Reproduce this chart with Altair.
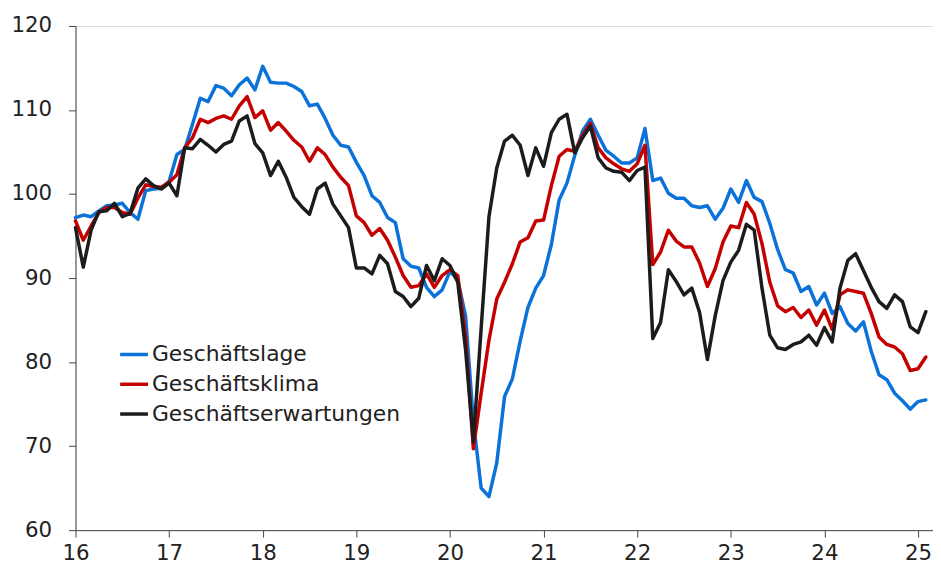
import altair as alt
import pandas as pd

# Monthly values Jan 2016 .. Feb 2025 (index 2015=100)
lage = [97.2, 97.5, 97.3, 98.0, 98.6, 98.7, 98.9, 97.8, 97.0, 100.4, 100.6, 100.7,
        101.5, 104.7, 105.3, 108.3, 111.4, 111.0, 112.9, 112.6, 111.7, 113.0, 113.8, 112.4,
        115.2, 113.3, 113.2, 113.2, 112.8, 112.2, 110.5, 110.7, 109.0, 107.0, 105.8, 105.6,
        103.8, 102.2, 99.8, 99.0, 97.2, 96.6, 92.3, 91.4, 91.2, 88.9, 87.8, 88.6,
        90.8, 89.8, 85.5, 73.0, 65.0, 64.0, 68.0, 75.9, 78.0, 82.5, 86.5, 88.8,
        90.3, 94.0, 99.3, 101.3, 104.6, 107.5, 108.9, 107.0, 105.2, 104.5, 103.7, 103.7,
        104.3, 107.8, 101.6, 101.9, 100.1, 99.5, 99.5, 98.6, 98.4, 98.6, 97.0, 98.3,
        100.6, 99.0, 101.6, 99.6, 99.1, 96.5, 93.4, 91.0, 90.6, 88.4, 89.0, 86.8,
        88.2, 85.8, 86.6, 84.6, 83.7, 84.8, 81.3, 78.5, 77.9, 76.3, 75.4, 74.4,
        75.3, 75.5]

klima = [96.8, 94.5, 96.2, 97.8, 98.4, 98.4, 97.8, 97.6, 99.5, 101.1, 100.9, 100.8,
         101.4, 102.3, 105.5, 106.7, 108.9, 108.5, 109.0, 109.3, 108.9, 110.5, 111.6, 109.1,
         109.9, 107.6, 108.5, 107.5, 106.4, 105.6, 103.9, 105.5, 104.7, 103.2, 102.0, 101.0,
         97.4, 96.6, 95.1, 95.9, 94.5, 92.5, 90.3, 88.9, 89.1, 90.5, 88.9, 90.3,
         91.0, 90.3, 83.0, 69.7, 76.3, 82.6, 87.5, 89.5, 91.7, 94.3, 94.8, 96.8,
         96.9, 101.0, 104.5, 105.3, 105.1, 107.0, 108.4, 105.5, 104.3, 103.6, 103.0, 102.7,
         103.6, 105.8, 91.6, 93.1, 95.7, 94.4, 93.7, 93.7, 91.8, 89.0, 91.1, 94.3,
         96.2, 96.0, 99.0, 97.6, 94.1, 89.5, 86.7, 86.0, 86.5, 85.3, 86.2, 84.4,
         86.2, 83.9, 88.0, 88.6, 88.4, 88.2, 85.8, 83.0, 82.1, 81.8, 81.0, 79.0,
         79.2, 80.6]

erwartungen = [96.0, 91.3, 95.7, 97.9, 98.0, 98.9, 97.3, 97.7, 100.7, 101.8, 101.0, 100.6,
               101.3, 99.8, 105.5, 105.4, 106.5, 105.8, 105.0, 105.9, 106.3, 108.7, 109.3, 106.0,
               104.9, 102.2, 103.9, 102.0, 99.6, 98.5, 97.6, 100.6, 101.3, 98.8, 97.4, 96.0,
               91.2, 91.2, 90.5, 92.7, 91.7, 88.4, 87.8, 86.6, 87.6, 91.5, 89.7, 92.3,
               91.5, 89.5, 81.5, 70.5, 84.0, 97.3, 103.1, 106.3, 107.0, 105.8, 102.2, 105.5,
               103.3, 107.3, 108.9, 109.5, 104.9, 106.7, 108.1, 104.3, 103.1, 102.7, 102.6, 101.6,
               102.8, 103.2, 82.8, 84.7, 91.0, 89.6, 88.0, 88.8, 85.9, 80.3, 85.5, 89.7,
               91.9, 93.3, 96.4, 95.7, 88.8, 83.2, 81.7, 81.5, 82.1, 82.4, 83.2, 82.0,
               84.1, 82.4, 88.8, 92.1, 92.9, 90.9, 88.9, 87.2, 86.4, 88.0, 87.2, 84.2,
               83.5, 86.0]

series_names = ["Geschäftslage", "Geschäftsklima", "Geschäftserwartungen"]
series_colors = ["#0a72d8", "#c40000", "#1c1c1c"]
year_ticks = [16, 17, 18, 19, 20, 21, 22, 23, 24, 25]

rows = []
for name, vals in zip(series_names, [lage, klima, erwartungen]):
    for i, v in enumerate(vals):
        rows.append({"t": 16 + i / 12.0, "v": v, "series": name})
df = pd.DataFrame(rows)

FONT = "DejaVu Sans"

color = alt.Color(
    "series:N",
    scale=alt.Scale(domain=series_names, range=series_colors),
    legend=alt.Legend(
        title=None,
        orient="none",
        legendX=43,
        legendY=315,
        symbolType="stroke",
        symbolSize=784,
        symbolStrokeWidth=3.5,
        labelFont=FONT,
        labelFontSize=22,
        labelColor="#222222",
        labelOffset=2,
        labelLimit=0,
        rowPadding=3,
        padding=0,
    ),
)

x = alt.X(
    "t:Q",
    scale=alt.Scale(domain=[16, 25.16], nice=False, zero=False),
    axis=alt.Axis(
        values=year_ticks,
        format="d",
        title=None,
        grid=False,
        labelFont=FONT,
        labelFontSize=21.5,
        labelColor="#222222",
        labelPadding=6,
        tickSize=7,
        tickColor="#444444",
        domainColor="#444444",
        labelFlush=False,
    ),
)
y = alt.Y(
    "v:Q",
    scale=alt.Scale(domain=[60, 120], nice=False, zero=False),
    axis=alt.Axis(
        values=[60, 70, 80, 90, 100, 110, 120],
        title=None,
        grid=False,
        labelFont=FONT,
        labelFontSize=21.5,
        labelColor="#222222",
        labelPadding=17,
        tickSize=7,
        tickColor="#444444",
        domainColor="#444444",
    ),
)

layers = []
for name in series_names:
    layers.append(
        alt.Chart(df)
        .transform_filter(alt.datum.series == name)
        .mark_line(strokeWidth=3.5, strokeJoin="round", strokeCap="round")
        .encode(x=x, y=y, color=color)
    )

chart = (
    alt.layer(*layers)
    .properties(
        width=864,
        height=508,
        autosize=alt.AutoSizeParams(type="none"),
        padding={"left": 68, "top": 16, "right": 0, "bottom": 34},
    )
    .configure_view(strokeWidth=0)
    .configure(background="white")
)

chart.save("out.html", embed_options={"renderer": "svg", "actions": False})
